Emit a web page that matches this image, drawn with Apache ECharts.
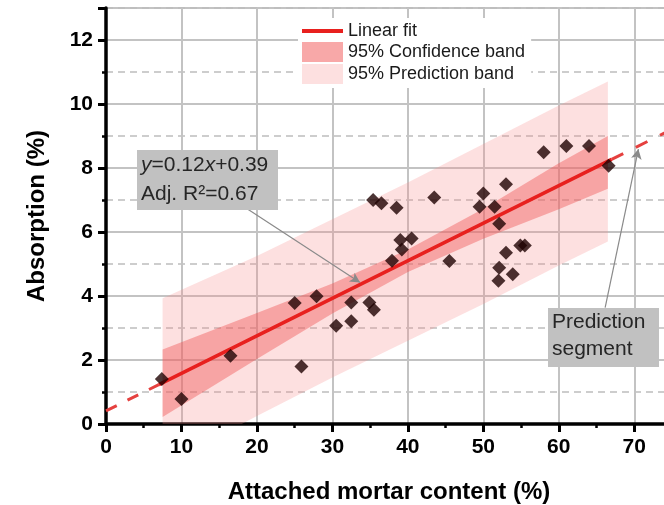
<!DOCTYPE html>
<html>
<head>
<meta charset="utf-8">
<script src="https://cdn.jsdelivr.net/npm/echarts@6/dist/echarts.min.js"></script>
<style>
  html, body { margin: 0; padding: 0; background: #fff; }
  #chart { width: 664px; height: 505px; }
</style>
</head>
<body>
<div id="chart"></div>
<script>
// measured points: attached mortar content (%) vs absorption (%)
const mortarX = [7.4, 10.0, 16.5, 25.0, 25.9, 27.9, 30.5, 32.5, 32.5, 34.9, 35.5,
  37.9, 39.2, 39.0, 40.5, 35.4, 36.5, 38.5, 43.5, 45.5, 49.5, 50.0, 51.5, 52.1,
  53.0, 52.1, 52.0, 53.0, 53.9, 54.9, 55.5, 58.0, 61.0, 64.0, 66.6]
const absorptionY = [1.41, 0.78, 2.13, 3.78, 1.80, 3.99, 3.07, 3.80, 3.21, 3.80, 3.57,
  5.10, 5.45, 5.75, 5.80, 7.00, 6.90, 6.76, 7.08, 5.09, 6.79, 7.20, 6.79, 6.26,
  7.49, 4.88, 4.48, 5.35, 4.68, 5.58, 5.58, 8.49, 8.69, 8.69, 8.07]

// fit line (solid over data range, dashed outside)
const fitX = [7.0, 67.0]
const fitY = [1.23, 8.27]
const extLeftX = [0, 7.0]
const extLeftY = [0.41, 1.23]
const extRightX = [67.0, 75]
const extRightY = [8.27, 9.21]

// band edges read at these x values
const bandX = [7.5, 20, 30, 40, 50, 60, 66.5]
const confUpper = [2.33, 3.47, 4.39, 5.45, 6.73, 8.15, 9.0]
const confLower = [0.22, 2.03, 3.45, 4.75, 5.79, 6.71, 7.35]
const predUpper = [3.93, 5.25, 6.4, 7.55, 8.75, 9.95, 10.7]
const predLower = [-1.3, 0.25, 1.45, 2.6, 3.75, 4.95, 5.7]

const xTicks = [0, 10, 20, 30, 40, 50, 60, 70]
const yTicks = [0, 2, 4, 6, 8, 10, 12]

const fontFam = '"Liberation Sans", Arial, sans-serif'
const gridGray = '#c3c3c3'
const fitRed = '#e8201e'
const confColor = 'rgba(240, 80, 80, 0.42)'
const predColor = 'rgba(248, 140, 140, 0.27)'
const boxGray = '#c1c1c1'
const textDark = '#262626'

const pairs = (xs, ys) => xs.map((x, i) => [x, ys[i]])

function bandSeries (name, upper, lower, color, z) {
  return {
    name: name,
    type: 'custom',
    clip: true,
    z: z,
    silent: true,
    itemStyle: { color: color },
    data: [[bandX[0], lower[0]]],
    renderItem: function (params, api) {
      const pts = []
      for (let i = 0; i < bandX.length; i++) pts.push(api.coord([bandX[i], upper[i]]))
      for (let i = bandX.length - 1; i >= 0; i--) pts.push(api.coord([bandX[i], lower[i]]))
      return { type: 'polygon', shape: { points: pts }, style: { fill: color } }
    }
  }
}

const chart = echarts.init(document.getElementById('chart'))
const option = {
  animation: false,
  textStyle: { fontFamily: fontFam },
  grid: { left: 106, right: -8, top: 8, bottom: 81, outerBoundsMode: 'none' },
  legend: {
    orient: 'vertical',
    left: 298,
    top: 18,
    padding: [4, 6, 4, 4],
    backgroundColor: '#fff',
    itemWidth: 41,
    itemHeight: 20,
    itemGap: 2,
    textStyle: { fontSize: 18, color: '#1a1a1a', fontFamily: fontFam },
    data: [
      { name: 'Linear fit', icon: 'path://M0,0H41V4H0Z', itemStyle: { color: fitRed } },
      { name: '95% Confidence band', icon: 'rect', itemStyle: { color: '#f8a8a8' } },
      { name: '95% Prediction band', icon: 'rect', itemStyle: { color: '#fde0e0' } }
    ]
  },
  xAxis: [{
    type: 'value',
    min: 0,
    max: 75,
    interval: 10,
    name: 'Attached mortar content (%)',
    nameLocation: 'middle',
    nameGap: 56,
    nameTextStyle: { fontSize: 24, fontWeight: 'bold', color: '#000', fontFamily: fontFam },
    axisLine: { show: true, lineStyle: { color: '#000', width: 3.5 } },
    axisTick: { show: true, length: 8, lineStyle: { color: '#000', width: 3 } },
    axisLabel: {
      margin: 13,
      fontSize: 21,
      fontWeight: 'bold',
      color: '#000',
      formatter: v => (xTicks.indexOf(v) >= 0 ? String(v) : '')
    },
    splitLine: { show: true, lineStyle: { color: gridGray, width: 2 } }
  }, {
    type: 'value',
    min: 0,
    max: 75,
    interval: 5,
    position: 'bottom',
    axisLine: { show: false },
    axisTick: { show: true, length: 4, lineStyle: { color: '#000', width: 2.5 } },
    axisLabel: { show: false },
    splitLine: { show: false }
  }],
  yAxis: [{
    type: 'value',
    min: 0,
    max: 13,
    interval: 2,
    name: 'Absorption (%)',
    nameLocation: 'middle',
    nameGap: 57,
    nameTextStyle: { fontSize: 24, fontWeight: 'bold', color: '#000', fontFamily: fontFam },
    axisLine: { show: true, lineStyle: { color: '#000', width: 3.5 } },
    axisTick: { show: true, length: 8, lineStyle: { color: '#000', width: 3 } },
    axisLabel: {
      margin: 13,
      fontSize: 21,
      fontWeight: 'bold',
      color: '#000',
      formatter: v => (yTicks.indexOf(v) >= 0 ? String(v) : '')
    },
    splitLine: { show: true, lineStyle: { color: gridGray, width: 2 } }
  }, {
    type: 'value',
    min: 0,
    max: 13,
    interval: 1,
    position: 'left',
    axisLine: { show: false },
    axisTick: { show: true, length: 4, lineStyle: { color: '#000', width: 2.5 } },
    axisLabel: { show: false },
    splitLine: {
      show: true,
      lineStyle: { color: ['rgba(0,0,0,0)', '#bdbdbd'], width: 1.5, type: [7, 5] }
    }
  }],
  graphic: [{
    type: 'rect',
    z: 100,
    shape: { x: 137, y: 150, width: 141, height: 60 },
    style: { fill: boxGray }
  }, {
    type: 'text',
    z: 101,
    x: 141,
    y: 151,
    style: {
      text: '{i|y}=0.12{i|x}+0.39\nAdj. R²=0.67',
      font: '21px ' + fontFam,
      fill: textDark,
      lineHeight: 29,
      rich: {
        i: { fontStyle: 'italic', fontSize: 21, fontFamily: fontFam, fill: textDark, lineHeight: 29 }
      }
    }
  }, {
    type: 'rect',
    z: 100,
    shape: { x: 548, y: 308, width: 111, height: 59 },
    style: { fill: boxGray }
  }, {
    type: 'text',
    z: 101,
    x: 552,
    y: 309,
    style: {
      text: 'Prediction\nsegment',
      font: '21px ' + fontFam,
      fill: textDark,
      lineHeight: 27
    }
  }],
  series: [
    bandSeries('95% Prediction band', predUpper, predLower, predColor, 1),
    bandSeries('95% Confidence band', confUpper, confLower, confColor, 2),
    {
      name: 'ext-left',
      type: 'line',
      z: 3,
      showSymbol: false,
      silent: true,
      lineStyle: { color: '#e5413f', width: 3, type: [12, 12] },
      data: pairs(extLeftX, extLeftY)
    },
    {
      name: 'ext-right',
      type: 'line',
      z: 3,
      showSymbol: false,
      silent: true,
      lineStyle: { color: '#e5413f', width: 3, type: [13, 14] },
      data: pairs(extRightX, extRightY)
    },
    {
      name: 'Linear fit',
      type: 'line',
      z: 4,
      showSymbol: false,
      silent: true,
      itemStyle: { color: fitRed },
      lineStyle: { color: fitRed, width: 3.5 },
      data: pairs(fitX, fitY)
    },
    {
      name: 'data',
      type: 'scatter',
      z: 5,
      symbol: 'diamond',
      symbolSize: 14,
      itemStyle: { color: '#1f0303' },
      data: pairs(mortarX, absorptionY),
      markLine: {
        silent: true,
        symbol: ['none', 'arrow'],
        symbolSize: [8, 10],
        label: { show: false },
        lineStyle: { color: '#8a8a8a', width: 1.2, type: 'solid' },
        data: [
          [{ coord: [18.8, 6.71] }, { coord: [33.66, 4.42] }],
          [{ coord: [66.14, 3.64] }, { coord: [70.55, 8.59] }]
        ]
      }
    }
  ]
}
chart.setOption(option)
</script>
</body>
</html>
